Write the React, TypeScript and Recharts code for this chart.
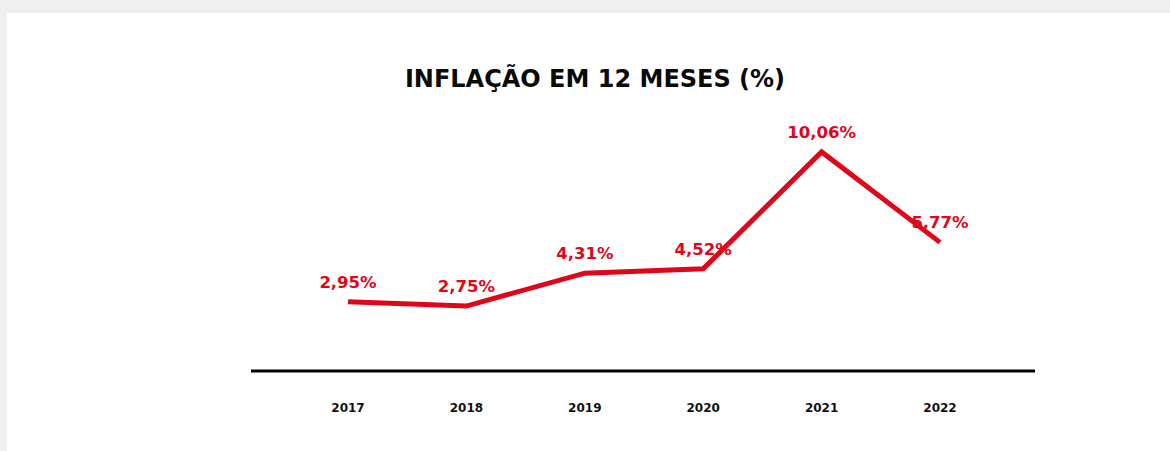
import React from 'react';
import { LineChart, Line, XAxis, YAxis, LabelList } from 'recharts';

const years = ['2017', '2018', '2019', '2020', '2021', '2022'];
const inflation = [2.95, 2.75, 4.31, 4.52, 10.06, 5.77];

const data = years.map((year, i) => ({ year, value: inflation[i] }));

const RED = '#e0061a';
const FONT = '"DejaVu Sans", sans-serif';

const fmt = (v: number) => `${v.toFixed(2).replace('.', ',')}%`;

function YearTick(props: any) {
  const { x, y, payload } = props;
  return (
    <text x={x} y={y + 33} textAnchor="middle" fontFamily={FONT} fontWeight={700} fontSize={12} fill="#111">
      {payload.value}
    </text>
  );
}

export default function App() {
  return (
    <div style={{ position: 'fixed', left: 0, top: 0, width: 1170, height: 451, background: '#efefef' }}>
      <div style={{ position: 'absolute', left: 7, top: 13, width: 1163, height: 438, background: '#fff' }} />
      <div
        style={{
          position: 'absolute', left: 0, top: 65, width: 1190, textAlign: 'center',
          fontFamily: FONT, fontWeight: 700, fontSize: 24, color: '#0a0a0a',
        }}
      >
        INFLAÇÃO EM 12 MESES (%)
      </div>
      <div style={{ position: 'absolute', left: 0, top: 0 }}>
        <LineChart width={1170} height={451} data={data} margin={{ top: 130, right: 135, bottom: 40, left: 251 }}>
          <XAxis
            dataKey="year"
            height={40}
            padding={{ left: 97, right: 95 }}
            axisLine={{ stroke: '#000', strokeWidth: 3 }}
            tickLine={false}
            tick={<YearTick />}
            interval={0}
          />
          <YAxis hide domain={[-0.33, 11.1]} />
          <Line
            type="linear"
            dataKey="value"
            stroke={RED}
            strokeWidth={5}
            dot={false}
            isAnimationActive={false}
          >
            <LabelList
              dataKey="value"
              position="top"
              offset={14}
              formatter={(v: any) => fmt(Number(v))}
              style={{ fontFamily: FONT, fontWeight: 700, fontSize: 16.5, fill: RED }}
            />
          </Line>
        </LineChart>
      </div>
    </div>
  );
}
